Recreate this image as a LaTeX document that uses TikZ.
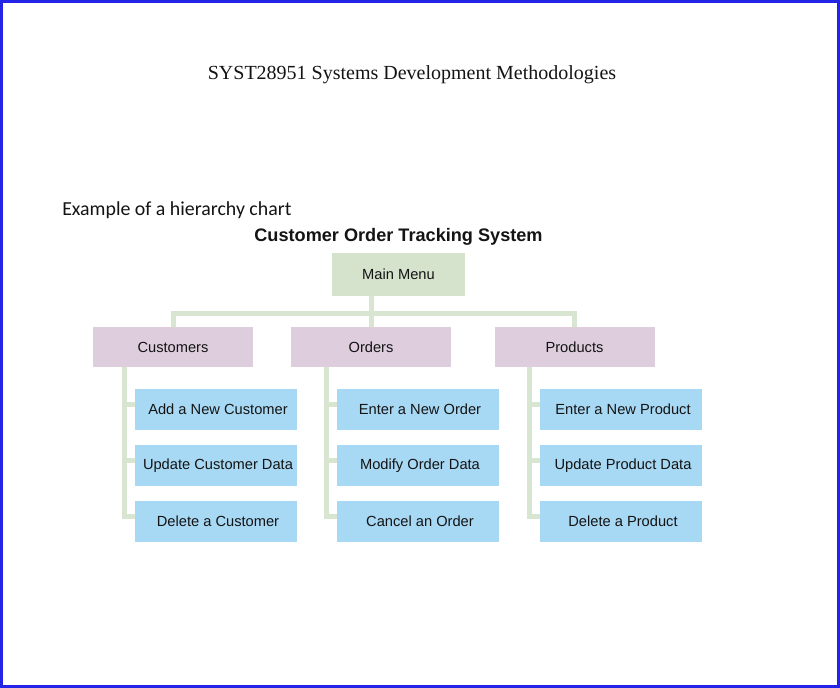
\documentclass[tikz,border=0pt]{standalone}
\usepackage{fontspec}
\setmainfont{Liberation Sans}
\newfontfamily\coursefont{Liberation Serif}
\newfontfamily\notefont{Carlito}
\usepackage{xcolor}
\usepackage{tikz}
\usetikzlibrary{
  positioning,
  calc
}
\definecolor{frameblue}{RGB}{36,36,230}
\definecolor{menugreen}{RGB}{213,226,204}
\definecolor{groupmauve}{RGB}{221,205,221}
\definecolor{taskblue}{RGB}{168,217,244}
\definecolor{linkgreen}{RGB}{216,229,208}
\definecolor{inkgray}{RGB}{20,20,20}

\begin{document}
\begin{tikzpicture}[
  x=0.75pt, y=-0.75pt,
  every node/.style={text=inkgray, inner sep=0pt},
  box/.style={font=\fontsize{11}{13}\selectfont, align=center},
  menu/.style={box, fill=menugreen, minimum width=99.75pt, minimum height=32.25pt},
  group/.style={box, fill=groupmauve, minimum width=120pt, minimum height=30pt},
  task/.style={box, fill=taskblue, minimum width=121.5pt, minimum height=30.75pt},
  conn/.style={draw=linkgreen, line width=3.75pt}
]
  % page and frame
  \useasboundingbox (0,0) rectangle (840,688);
  \fill[white] (0,0) rectangle (840,688);
  \draw[frameblue, line width=2.25pt] (1.5,1.5) rectangle (838.5,686.5);

  % headings
  \node[font=\coursefont\fontsize{15}{18}\selectfont] (course) at (412,75)
    {SYST28951 Systems Development Methodologies};
  \node[font=\notefont\fontsize{14.9}{18}\selectfont, anchor=west] (note) at (62,210)
    {Example of a hierarchy chart};
  \node[font=\bfseries\fontsize{13.6}{16}\selectfont] (chart) at (398.5,237)
    {Customer Order Tracking System};

  % top level
  \node[menu] (main) at (398.5,274.5) {Main Menu};

  % second level
  \node[group] (cust) at (173,347) {Customers};
  \node[group] (ord)  at (371,347) {Orders};
  \node[group] (prod) at (574.5,347) {Products};

  % third level
  \node[task] (c1) at (216,409.5) {\hspace{3pt}Add a New Customer};
  \node[task] (c2) at (216,465.5) {\hspace{3pt}Update Customer Data};
  \node[task] (c3) at (216,521.5) {\hspace{3pt}Delete a Customer};
  \node[task] (o1) at (418,409.5) {\hspace{3pt}Enter a New Order};
  \node[task] (o2) at (418,465.5) {\hspace{3pt}Modify Order Data};
  \node[task] (o3) at (418,521.5) {\hspace{3pt}Cancel an Order};
  \node[task] (p1) at (621,409.5) {\hspace{3pt}Enter a New Product};
  \node[task] (p2) at (621,465.5) {\hspace{3pt}Update Product Data};
  \node[task] (p3) at (621,521.5) {\hspace{3pt}Delete a Product};

  % links: menu to groups
  \coordinate (bar) at (0,314);
  \draw[conn] (main.south -| ord.north) -- (ord.north);
  \draw[conn] (cust.north) -- (cust.north |- bar) -- (prod.north |- bar) -- (prod.north);

  % links: groups to tasks
  \foreach \g/\k in {cust/c, ord/o, prod/p} {
    \coordinate (\k x) at ($(\k1.west)+(-10,0)$);
    \draw[conn] (\g.south -| \k x) -- ($(\k x |- \k3.west)+(0,-5)$) -- ($(\k3.west)+(0,-5)$);
    \draw[conn] ($(\k x |- \k1.west)+(0,-5)$) -- ($(\k1.west)+(0,-5)$);
    \draw[conn] ($(\k x |- \k2.west)+(0,-5)$) -- ($(\k2.west)+(0,-5)$);
  }
\end{tikzpicture}
\end{document}
